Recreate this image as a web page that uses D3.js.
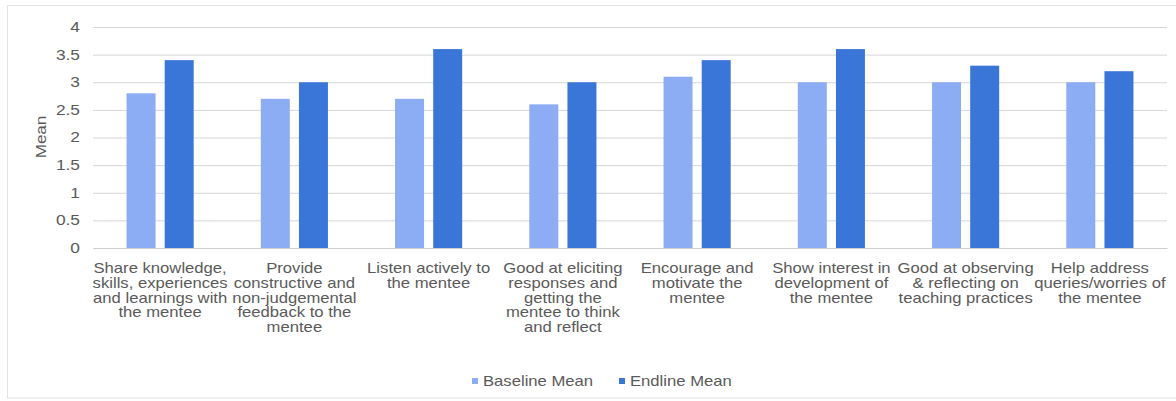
<!DOCTYPE html>
<html>
<head>
<meta charset="utf-8">
<script src="https://cdn.jsdelivr.net/npm/d3@7"></script>
<style>
  html, body { margin: 0; padding: 0; background: #fff; }
  svg { display: block; font-family: "Liberation Sans", Arial, sans-serif; }
</style>
</head>
<body>
<svg id="chart" width="1176" height="401"></svg>
<script>
// Mentoring behaviours, baseline vs endline mean ratings
const categories = [
  ["Share knowledge,", "skills, experiences", "and learnings with", "the mentee"],
  ["Provide", "constructive and", "non-judgemental", "feedback to the", "mentee"],
  ["Listen actively to", "the mentee"],
  ["Good at eliciting", "responses and", "getting the", "mentee to think", "and reflect"],
  ["Encourage and", "motivate the", "mentee"],
  ["Show interest in", "development of", "the mentee"],
  ["Good at observing", "& reflecting on", "teaching practices"],
  ["Help address", "queries/worries of", "the mentee"]
];
const baselineMean = [2.8, 2.7, 2.7, 2.6, 3.1, 3.0, 3.0, 3.0];
const endlineMean  = [3.4, 3.0, 3.6, 3.0, 3.4, 3.6, 3.3, 3.2];
const seriesNames = ["Baseline Mean", "Endline Mean"];
const seriesColors = ["#8cacf3", "#3a75d8"];
const yTicks = [0, 0.5, 1, 1.5, 2, 2.5, 3, 3.5, 4];

const textColor = "#5a5a5a";
const stretch = 1.19;   // wide glyph proportions used for all labels

const svg = d3.select("#chart");
const W = 1176, H = 401;
const margin = { left: 93, right: 9, top: 27, bottom: 153 };
const plotW = W - margin.left - margin.right;
const plotH = H - margin.top - margin.bottom;

// outer frame
svg.append("rect")
  .attr("x", 7.5).attr("y", 5.5)
  .attr("width", 1180).attr("height", 392.5)
  .attr("fill", "none").attr("stroke", "#e3e3e3").attr("stroke-width", 1);

const g = svg.append("g").attr("transform", `translate(${margin.left},${margin.top})`);

const idx = d3.range(categories.length);
const x0 = d3.scaleBand().domain(idx).range([0, plotW]).paddingInner(0).paddingOuter(0);
const x1 = d3.scaleBand().domain([0, 1]).range([0, x0.bandwidth() * 0.5]).paddingInner(0.24);
const groupOffset = x0.bandwidth() * 0.25;
const y = d3.scaleLinear().domain([0, 4]).range([plotH, 0]);

// gridlines + y labels
const yAxis = d3.axisLeft(y).tickValues(yTicks).tickSize(-plotW).tickPadding(8)
  .tickFormat(d => String(d));
const ya = g.append("g").call(yAxis);
ya.select(".domain").remove();
ya.selectAll(".tick line").attr("stroke", "#d6d6d6").attr("stroke-width", 1);
ya.selectAll(".tick text").attr("fill", textColor).attr("font-size", 14)
  .attr("x", 0).attr("transform", `translate(-13,0) scale(1.24,1)`);

// bars
const data = idx.map(i => [baselineMean[i], endlineMean[i]]);
const groups = g.selectAll(".grp").data(data).join("g")
  .attr("transform", (d, i) => `translate(${x0(i) + groupOffset},0)`);
groups.selectAll("rect").data(d => d).join("rect")
  .attr("x", (d, j) => x1(j))
  .attr("width", x1.bandwidth())
  .attr("y", d => y(d))
  .attr("height", d => plotH - y(d))
  .attr("fill", (d, j) => seriesColors[j]);

// x axis baseline
const xa = g.append("g").attr("transform", `translate(0,${plotH})`)
  .call(d3.axisBottom(x0).tickSize(0).tickFormat(() => ""));
xa.select(".domain").attr("stroke", "#cfcfcf");

// category labels
const lbl = g.append("g").selectAll("text").data(categories).join("text")
  .attr("transform", (d, i) => `translate(${x0(i) + x0.bandwidth() / 2},${plotH + 25}) scale(${stretch},1)`)
  .attr("text-anchor", "middle").attr("fill", textColor).attr("font-size", 14);
lbl.selectAll("tspan").data(d => d).join("tspan")
  .attr("x", 0).attr("dy", (d, k) => k === 0 ? 0 : 14.8).text(d => d);

// y axis title
svg.append("text")
  .attr("transform", `translate(46,137) rotate(-90) scale(1.22,1)`)
  .attr("text-anchor", "middle").attr("fill", textColor).attr("font-size", 14)
  .text("Mean");

// legend
const legend = svg.append("g").attr("transform", "translate(472,381)");
const legX = [0, 147];
seriesNames.forEach((n, j) => {
  const lg = legend.append("g").attr("transform", `translate(${legX[j]},0)`);
  lg.append("rect").attr("x", 0).attr("y", -3).attr("width", 6).attr("height", 6)
    .attr("fill", seriesColors[j]);
  lg.append("text").attr("transform", `translate(11,0) scale(${stretch},1)`)
    .attr("dy", "0.35em")
    .attr("fill", textColor).attr("font-size", 14).text(n);
});
</script>
</body>
</html>
